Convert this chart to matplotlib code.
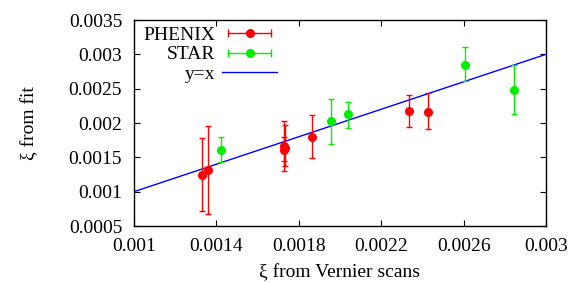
import numpy as np
import matplotlib
matplotlib.use('Agg')
import matplotlib.pyplot as plt
from matplotlib.lines import Line2D
from matplotlib.legend_handler import HandlerLine2D, HandlerTuple

plt.rcParams['font.family'] = ['Liberation Serif', 'DejaVu Serif']
plt.rcParams['font.size'] = 14

# PHENIX data: x, y, upper end, lower end of error bar
phenix_x = [0.001332, 0.001358, 0.001730, 0.001735, 0.001728, 0.001866, 0.002336, 0.002426]
phenix_y = [0.001244, 0.001311, 0.001670, 0.001640, 0.001610, 0.001800, 0.002174, 0.002165]
phenix_hi = [0.001775, 0.001955, 0.002023, 0.001975, 0.001800, 0.002111, 0.002414, 0.002433]
phenix_lo = [0.000712, 0.000668, 0.001300, 0.001380, 0.001449, 0.001487, 0.001940, 0.001906]

# STAR data
star_x = [0.001422, 0.001956, 0.002037, 0.002605, 0.002846]
star_y = [0.001614, 0.002023, 0.002126, 0.002852, 0.002481]
star_hi = [0.001800, 0.002350, 0.002311, 0.003105, 0.002842]
star_lo = [0.001428, 0.001690, 0.001931, 0.002608, 0.002126]

line_x = [0.001, 0.003]

xticks = [0.001, 0.0014, 0.0018, 0.0022, 0.0026, 0.003]
yticks = [0.0005, 0.001, 0.0015, 0.002, 0.0025, 0.003, 0.0035]

red = '#ff0000'
green = '#00ee00'
blue = '#0000ff'

fig = plt.figure(figsize=(5.72, 2.83), dpi=100)
ax = fig.add_axes([0.2343, 0.2014, 0.7202, 0.7279])

def errs(y, hi, lo):
    y = np.array(y)
    return [y - np.array(lo), np.array(hi) - y]

ax.plot(line_x, line_x, color=blue, lw=1, zorder=2)
ax.errorbar(phenix_x, phenix_y, yerr=errs(phenix_y, phenix_hi, phenix_lo),
            fmt='o', color=red, ms=5.5, elinewidth=1, capsize=2.5, capthick=1, zorder=3)
ax.errorbar(star_x, star_y, yerr=errs(star_y, star_hi, star_lo),
            fmt='o', color=green, ms=5.5, elinewidth=1, capsize=2.5, capthick=1, zorder=3)

ax.set_xlim(0.001, 0.003)
ax.set_ylim(0.0005, 0.0035)
ax.set_xticks(xticks)
ax.set_xticklabels([f'{v:g}' for v in xticks])
ax.set_yticks(yticks)
ax.set_yticklabels([f'{v:g}' for v in yticks])
ax.tick_params(direction='in', top=True, right=True, length=4, width=0.8)
ax.tick_params(axis='x', pad=8.5)
ax.tick_params(axis='y', pad=8.5)
for s in ax.spines.values():
    s.set_linewidth(1)

ax.set_xlabel('ξ from Vernier scans', labelpad=6)
ax.set_ylabel('ξ from fit', labelpad=22)

# gnuplot-style legend keys
caps_r = Line2D([], [], color=red, lw=1, marker='|', ms=6)
dot_r = Line2D([], [], color=red, ls='none', marker='o', ms=5.5)
caps_g = Line2D([], [], color=green, lw=1, marker='|', ms=6)
dot_g = Line2D([], [], color=green, ls='none', marker='o', ms=5.5)
key_line = Line2D([], [], color=blue, lw=1)
hmap = {caps_r: HandlerLine2D(numpoints=2), caps_g: HandlerLine2D(numpoints=2),
        dot_r: HandlerLine2D(numpoints=1), dot_g: HandlerLine2D(numpoints=1),
        tuple: HandlerTuple(ndivide=1)}
ax.legend([(caps_r, dot_r), (caps_g, dot_g), key_line], ['PHENIX', 'STAR', 'y=x'],
          handler_map=hmap, loc='upper left', frameon=False, markerfirst=False,
          handlelength=2.8, handletextpad=0.35, labelspacing=0.08,
          bbox_to_anchor=(-0.01, 1.034), borderaxespad=0.3)

fig.savefig('out.png', dpi=100)
